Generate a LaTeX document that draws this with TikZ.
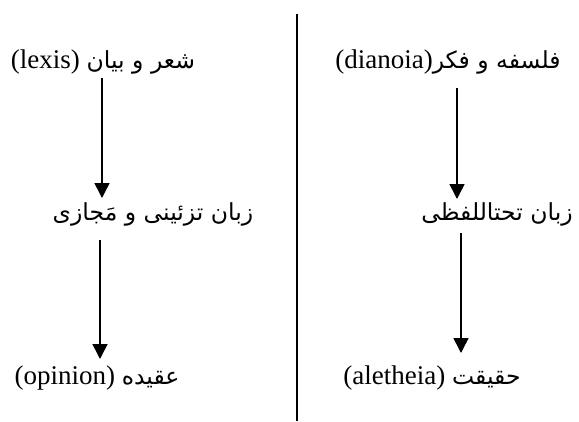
\documentclass[tikz,border=0pt]{standalone}
\usepackage{fontspec}
\setmainfont{Liberation Serif}
\newfontfamily\arabicfont[Script=Arabic]{DejaVu Sans}
\newcommand{\fa}{\arabicfont\fontsize{23.5}{28}\selectfont}
\TeXXeTstate=1
\usetikzlibrary{arrows.meta}
\begin{document}
\begin{tikzpicture}[x=1pt,y=-1pt,
  lbl/.style={inner sep=0pt, font=\fontsize{27}{30}\selectfont},
  arr/.style={line width=1.6pt, -{Triangle[length=15pt,width=15pt]}},
  divider/.style={line width=1.8pt}]
\useasboundingbox (0,0) rectangle (579,421);
\node[lbl] (a1) at (103,62) {\beginR{\fa شعر و بیان} \beginL(lexis)\endL\endR};
\node[lbl] (b1) at (448,62) {\beginR{\fa فلسفه و فکر}\beginL(dianoia)\endL\endR};
\node[lbl] (a2) at (153,214) {\fa\beginR زبان تزئینی و مَجازی\endR};
\node[lbl] (b2) at (497,214) {\fa\beginR زبان تحتاللفظی\endR};
\node[lbl] (a3) at (97,378) {\beginR{\fa عقیده} \beginL(opinion)\endL\endR};
\node[lbl] (b3) at (432,378) {\beginR{\fa حقیقت} \beginL(aletheia)\endL\endR};
\coordinate (s1) at (102,78);
\coordinate (t1) at (102,198);
\coordinate (s2) at (100,240);
\coordinate (t2) at (100,359);
\coordinate (s3) at (457,88);
\coordinate (t3) at (457,199);
\coordinate (s4) at (461,233);
\coordinate (t4) at (461,353);
\draw[arr] (s1) -- (t1);
\draw[arr] (s2) -- (t2);
\draw[arr] (s3) -- (t3);
\draw[arr] (s4) -- (t4);
\coordinate (v1) at (297,14);
\coordinate (v2) at (297,421);
\draw[divider] (v1) -- (v2);
\end{tikzpicture}
\end{document}
